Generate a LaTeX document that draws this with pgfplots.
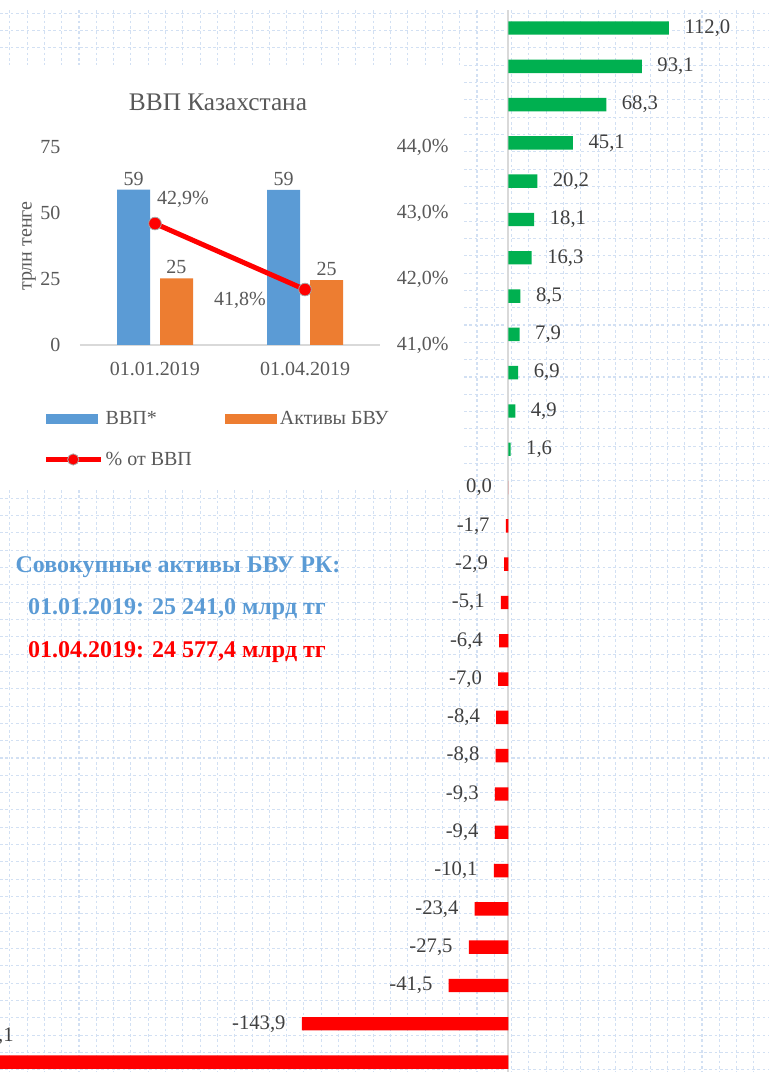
\documentclass[border=0pt]{standalone}
\usepackage{fontspec}
\setmainfont{Liberation Serif}
\usepackage{pgfplots}
\usepackage{pgfplotstable}
\pgfplotsset{compat=1.18}

\definecolor{posgreen}{RGB}{0,176,80}
\definecolor{negred}{RGB}{255,0,0}
\definecolor{gridblue}{RGB}{210,224,243}
\definecolor{labgray}{RGB}{64,64,64}
\definecolor{txtgray}{RGB}{89,89,89}
\definecolor{axgray}{RGB}{217,217,217}
\definecolor{gdpblue}{RGB}{91,155,213}
\definecolor{bvuorange}{RGB}{237,125,49}

% positive changes (top part)
\pgfplotstableread{
idx val
0 112.0
1 93.1
2 68.3
3 45.1
4 20.2
5 18.1
6 16.3
7 8.5
8 7.9
9 6.9
10 4.9
11 1.6
}\posdata

% zero and negative changes
\pgfplotstableread{
idx val
12 0.0
13 -1.7
14 -2.9
15 -5.1
16 -6.4
17 -7.0
18 -8.4
19 -8.8
20 -9.3
21 -9.4
22 -10.1
23 -23.4
24 -27.5
25 -41.5
26 -143.9
27 -417.1
}\negdata

\newcommand{\lab}{\fontsize{15.5}{18}\selectfont}
\newcommand{\ins}{\fontsize{15}{18}\selectfont}

\begin{document}
\begin{tikzpicture}[x=0.75pt,y=0.75pt]
\useasboundingbox (0,0) rectangle (769,1072);
\clip (0,0) rectangle (769,1072);

% main bar chart
\begin{axis}[
    at={(0pt,0pt)}, anchor=south west,
    scale only axis, width=576.75pt, height=796.5pt,
    xmin=-354.2, xmax=181.7,
    y dir=reverse, ymin=-0.47, ymax=27.26,
    axis line style={draw=none},
    xtick={-347.4,-335.34,...,182}, ytick={-0.384,0.0682,...,27.3},
    xticklabel=\empty, yticklabel=\empty, major tick length=0pt,
    grid=major,
    major grid style={draw=gridblue, line width=0.8pt, dash pattern=on 2pt off 2pt},
    extra x ticks={0}, extra x tick labels={},
    extra x tick style={xticklabel=\empty, major grid style={draw=axgray, line width=1.5pt, solid}},
    xbar, bar width=0.35, bar shift=0pt,
    point meta=x,
    nodes near coords={\pgfmathprintnumber[fixed,fixed zerofill,precision=1,use comma,assume math mode=true]{\pgfplotspointmeta}},
    every node near coord/.append style={font=\lab, text=labgray, inner sep=0pt},
]
\addplot[fill=posgreen, draw=none, nodes near coords style={anchor=west, xshift=11.5pt}] table[x=val,y=idx] {\posdata};
\addplot[fill=negred, draw=none, nodes near coords style={anchor=east, xshift=-12pt}] table[x=val,y=idx] {\negdata};
\end{axis}

% cut-off label of the last bar
\node[anchor=base east, font=\lab, text=labgray, inner sep=0pt] at (14,31) {-417,1};

% inset
\fill[white] (0,582) rectangle (463,1007);
\node[font=\fontsize{19}{22}\selectfont, text=txtgray] at (218,970) {ВВП Казахстана};

\begin{axis}[
    at={(60pt,545.25pt)}, anchor=south west,
    scale only axis, width=225pt, height=148.5pt,
    xmin=0.5, xmax=2.5, xtick={1,2}, xticklabels={01.01.2019,01.04.2019},
    ymin=0, ymax=75, ytick={0,25,50,75},
    /pgf/number format/assume math mode=true,
    axis x line*=bottom, axis y line*=left,
    y axis line style={draw=none},
    x axis line style={draw=axgray, line width=0.9pt, -},
    major tick length=0pt,
    tick label style={font=\ins, text=txtgray, inner sep=0pt},
    yticklabel style={xshift=-14.5pt},
    xticklabel style={yshift=-12.4pt},
    ylabel={трлн тенге},
    every axis y label/.style={at={(rel axis cs:-0.17,0.5)}, rotate=90, anchor=center, font=\ins, text=txtgray},
    ybar=7.5pt, bar width=24.75pt,
    point meta=y,
    nodes near coords={\pgfmathprintnumber[fixed,precision=0,assume math mode=true]{\pgfplotspointmeta}},
    every node near coord/.append style={font=\ins, text=txtgray, inner sep=0pt, yshift=3pt},
    legend style={draw=none, fill=none, at={(-0.123,-0.32)}, anchor=north west,
        font=\ins, text=txtgray, inner sep=0pt, row sep=15pt,
        /tikz/every even column/.append style={column sep=23pt}},
    legend columns=2, legend cell align=left,
]
\addplot[fill=gdpblue, draw=none,
    legend image code/.code={\fill[gdpblue] (0pt,-3.75pt) rectangle (39pt,3.75pt);}]
    coordinates {(1,58.9) (2,58.8)};
\addplot[fill=bvuorange, draw=none,
    legend image code/.code={\fill[bvuorange] (0pt,-3.75pt) rectangle (39pt,3.75pt);}]
    coordinates {(1,25.241) (2,24.577)};
\addlegendimage{legend image code/.code={
    \draw[negred, line width=3.75pt] (0pt,0pt) -- (41pt,0pt);
    \fill[negred, draw=gray!70, line width=0.6pt] (20.5pt,0pt) circle (4.2pt);}}
\legend{ВВП*, Активы БВУ, \% от ВВП}
\end{axis}

\begin{axis}[
    at={(60pt,545.25pt)}, anchor=south west,
    scale only axis, width=225pt, height=148.5pt,
    xmin=0.5, xmax=2.5, hide x axis,
    axis y line*=right, y axis line style={draw=none},
    ymin=41, ymax=44, ytick={41,42,43,44},
    major tick length=0pt,
    yticklabel={\pgfmathprintnumber[fixed,fixed zerofill,precision=1,use comma,assume math mode=true]{\tick}\%},
    tick label style={font=\ins, text=txtgray, inner sep=0pt},
    yticklabel style={xshift=12.5pt},
]
\addplot[negred, line width=3.75pt, mark=*, mark size=4.75pt,
    mark options={fill=negred, draw=gray!70, line width=0.6pt}]
    coordinates {(1,42.84) (2,41.84)};
\addplot[draw=none, point meta=explicit symbolic, nodes near coords,
    every node near coord/.append style={font=\ins, text=txtgray, anchor=center, xshift=21pt, yshift=18.5pt}]
    coordinates {(1,42.84) [42,9\%]};
\addplot[draw=none, point meta=explicit symbolic, nodes near coords,
    every node near coord/.append style={font=\ins, text=txtgray, anchor=center, xshift=-48.75pt, yshift=-8pt}]
    coordinates {(2,41.84) [41,8\%]};
\end{axis}

% totals
\node[font=\bfseries\fontsize{18}{22}\selectfont, text=gdpblue] at (178,505) {Совокупные активы БВУ РК:};
\node[font=\bfseries\fontsize{18}{22}\selectfont, text=gdpblue] at (177,463) {01.01.2019: 25 241,0 млрд тг};
\node[font=\bfseries\fontsize{18}{22}\selectfont, text=negred] at (177,420) {01.04.2019: 24 577,4 млрд тг};
\end{tikzpicture}
\end{document}
